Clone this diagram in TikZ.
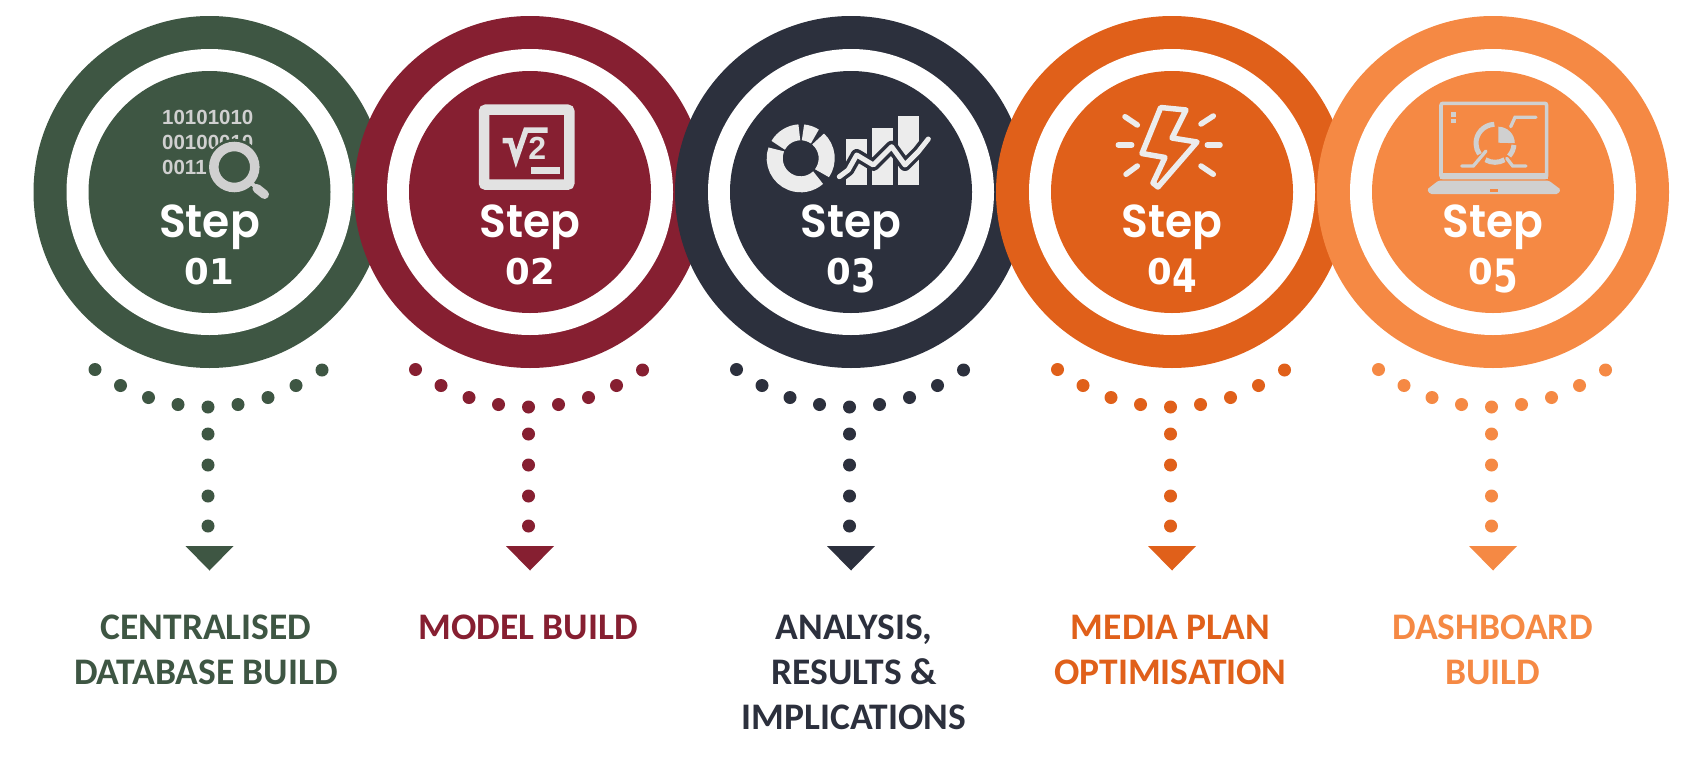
\documentclass[tikz,border=0pt]{standalone}
\usepackage{fontspec}
\setmainfont{Liberation Sans}
\newfontfamily\labelfont{Carlito}
\newfontfamily\stepfont{Poppins SemiBold}
\newfontfamily\numfont{DejaVu Sans}
\newfontfamily\iconfont{Liberation Sans}
\definecolor{cgreen}{HTML}{3E5643}
\definecolor{cmaroon}{HTML}{861F31}
\definecolor{cdark}{HTML}{2C303D}
\definecolor{corange}{HTML}{E0601A}
\definecolor{clight}{HTML}{F58944}
\definecolor{igrey}{HTML}{D0D0D0}
\definecolor{ipale}{HTML}{E2E2E2}
\definecolor{iwhite}{HTML}{ECECEC}
\newcommand{\lowdig}[1]{\raisebox{-8pt}{\scalebox{1}[1.3]{#1}}}
\tikzset{
  disc/.style={circle,inner sep=0pt,minimum size=#1,draw=none},
  steptext/.style={anchor=base,text=white,inner sep=0pt,font=\stepfont\fontsize{44}{44}\selectfont},
  numtext/.style={anchor=base,text=white,inner sep=0pt,font=\numfont\bfseries\fontsize{35.5}{35.5}\selectfont},
  labeltext/.style={anchor=base,inner sep=0pt,font=\labelfont\bfseries\fontsize{37.5}{37.5}\selectfont},
  bintext/.style={anchor=base west,inner sep=0pt,text=igrey,font=\iconfont\bfseries\fontsize{20.5}{20.5}\selectfont},
}
\newcommand{\stepunit}[3]{%
  \node[disc=352pt,fill=#3] (outer#1) at (#2,192) {};
  \node[disc=286pt,fill=white] (ring#1) at (#2,192) {};
  \node[disc=242pt,fill=#3] (inner#1) at (#2,192) {};
}
\newcommand{\stepcaption}[4]{%
  \node[steptext] (step#1) at (#2,237) {\scalebox{1}[1.05]{Step}};
  \node[numtext] (num#1) at (#2,284) {#4};
  \begin{scope}[shift={(#2-1.5,0)}]
    \foreach \dx/\dy in {-113/369.5,-87.5/385.5,-59.5/397.5,-30/404.5,0/407,30/404.5,60/397.5,88/385.5,114/370,0/434,0/465,0/496,0/526}
      \fill[#3] (\dx,\dy) circle[radius=6.5pt];
  \end{scope}
  \fill[#3] (#2-24,546) -- (#2+24,546) -- (#2,570.5) -- cycle;
}
\begin{document}
\begin{tikzpicture}[x=1pt,y=-1pt]
\fill[white] (0,0) rectangle (1708,763);
\path[use as bounding box] (0,0) rectangle (1708,763);

\stepunit{1}{209.5}{cgreen}
\stepunit{2}{530}{cmaroon}
\stepunit{3}{851}{cdark}
\stepunit{4}{1172}{corange}
\stepunit{5}{1493}{clight}

\stepcaption{1}{209.5}{cgreen}{01}
\stepcaption{2}{530}{cmaroon}{02}
\stepcaption{3}{851}{cdark}{0\lowdig{3}}
\stepcaption{4}{1172}{corange}{0\lowdig{4}}
\stepcaption{5}{1493}{clight}{0\lowdig{5}}

% labels
\node[labeltext,text=cgreen] (l1a) at (206,639.3) {CENTRALISED};
\node[labeltext,text=cgreen] (l1b) at (206,684.3) {DATABASE BUILD};
\node[labeltext,text=cmaroon] (l2a) at (528,639.3) {MODEL BUILD};
\node[labeltext,text=cdark] (l3a) at (854,639.3) {ANALYSIS,};
\node[labeltext,text=cdark] (l3b) at (854,684.3) {RESULTS \&};
\node[labeltext,text=cdark] (l3c) at (854,729) {IMPLICATIONS};
\node[labeltext,text=corange] (l4a) at (1170.5,639.3) {MEDIA PLAN};
\node[labeltext,text=corange] (l4b) at (1170.5,684.3) {OPTIMISATION};
\node[labeltext,text=clight] (l5a) at (1492.5,639.3) {DASHBOARD};
\node[labeltext,text=clight] (l5b) at (1492.5,684.3) {BUILD};

% icon 1
\node[bintext] (b1) at (162,124) {10101010};
\node[bintext] (b2) at (162,149) {00100010};
\node[bintext] (b3) at (162,174) {0011};
\fill[cgreen] (234.3,167) circle[radius=28pt];
\draw[igrey,line width=9.5pt] (234.3,167) circle[radius=20.5pt];
\draw[igrey,line width=4pt] (250,182) -- (258,189);
\draw[igrey,line width=9pt,line cap=round] (257,188.5) -- (264.5,194.5);

% icon 2
\draw[ipale,line width=10.5pt,rounded corners=2pt] (484,109.7) rectangle (569.3,184.7);
\draw[ipale,line width=5.5pt,miter limit=10] (502.7,140.7) -- (510.5,140.7) -- (516,159) -- (526,130) -- (547.5,130);
\node[anchor=base,inner sep=0pt,text=ipale,font=\iconfont\bfseries\fontsize{32}{32}\selectfont] (root2) at (537.3,159.5) {2};
\fill[ipale] (531,167) rectangle (560,174.3);

% icon 3
\coordinate (dc) at (800.7,158.3);
\foreach \a/\b in {160/312,93/150,57/85,-35/48}
  \draw[iwhite,line width=16pt] (dc) ++(\a:26pt) arc[start angle=\a,end angle=\b,radius=26pt];
\fill[iwhite] (846,139) rectangle (866.7,185);
\fill[iwhite] (872.3,127.7) rectangle (892.7,185);
\fill[iwhite] (898.3,115.7) rectangle (919.3,185);
\draw[cdark,line width=12pt,line join=round] (839.3,176.7) -- (848.3,170) -- (856.7,155) -- (873.3,165) -- (891.7,146.7) -- (905,165) -- (918.3,151.7) -- (928.3,139);
\draw[iwhite,line width=5pt,line join=round,line cap=round] (839.3,176.7) -- (848.3,170) -- (856.7,155) -- (873.3,165) -- (891.7,146.7) -- (905,165) -- (918.3,151.7) -- (928.3,139);

% icon 4
\draw[iwhite,line width=5.5pt,line join=round] (1160.7,107.5) -- (1186,110) -- (1172,138) -- (1197,142) -- (1158,187) -- (1153,183) -- (1165,157.5) -- (1142,153.5) -- cycle;
\foreach \xa/\ya/\xb/\yb in {1125/116.7/1137.3/125,1118.3/145/1131.7/145,1126/174.3/1137.3/166,1213.3/116/1201/124,1207.3/145/1220/145,1201/166/1213.3/174.3}
  \draw[iwhite,line width=5.5pt,line cap=round] (\xa,\ya) -- (\xb,\yb);

% icon 5
\draw[igrey,line width=3.6pt,rounded corners=2pt] (1441,103.3) rectangle (1546.6,177.6);
\fill[igrey] (1440,173.3) rectangle (1548,179.3);
\fill[igrey,rounded corners=1.5pt] (1438.3,180.7) -- (1427,189.5) -- (1430,194) -- (1558,194) -- (1560.7,189.5) -- (1549,180.7) -- cycle;
\fill[clight] (1490,189.3) rectangle (1498.3,191.7);
\fill[igrey] (1450.7,112.3) rectangle (1456,116.7);
\fill[igrey] (1450.7,119) rectangle (1456,123.3);
\coordinate (pc) at (1495,143.3);
\foreach \a/\b in {92/215,240/300,-42/-5}
  \draw[igrey,line width=5pt] (pc) ++(\a:19pt) arc[start angle=\a,end angle=\b,radius=19pt];
\fill[igrey] (1498.3,142.7) -- (1498.3,126.7) arc[start angle=90,end angle=0,radius=16.5pt] -- cycle;
\draw[igrey,line width=3.3pt,line cap=round] (1510.7,126.7) -- (1515,117.3) -- (1536,117.3);
\draw[igrey,line width=3.3pt,line cap=round] (1486,151) -- (1473.3,166) -- (1461.7,166);
\draw[igrey,line width=3.3pt,line cap=round] (1506.7,158.3) -- (1512.7,166) -- (1526,166);
\end{tikzpicture}
\end{document}
